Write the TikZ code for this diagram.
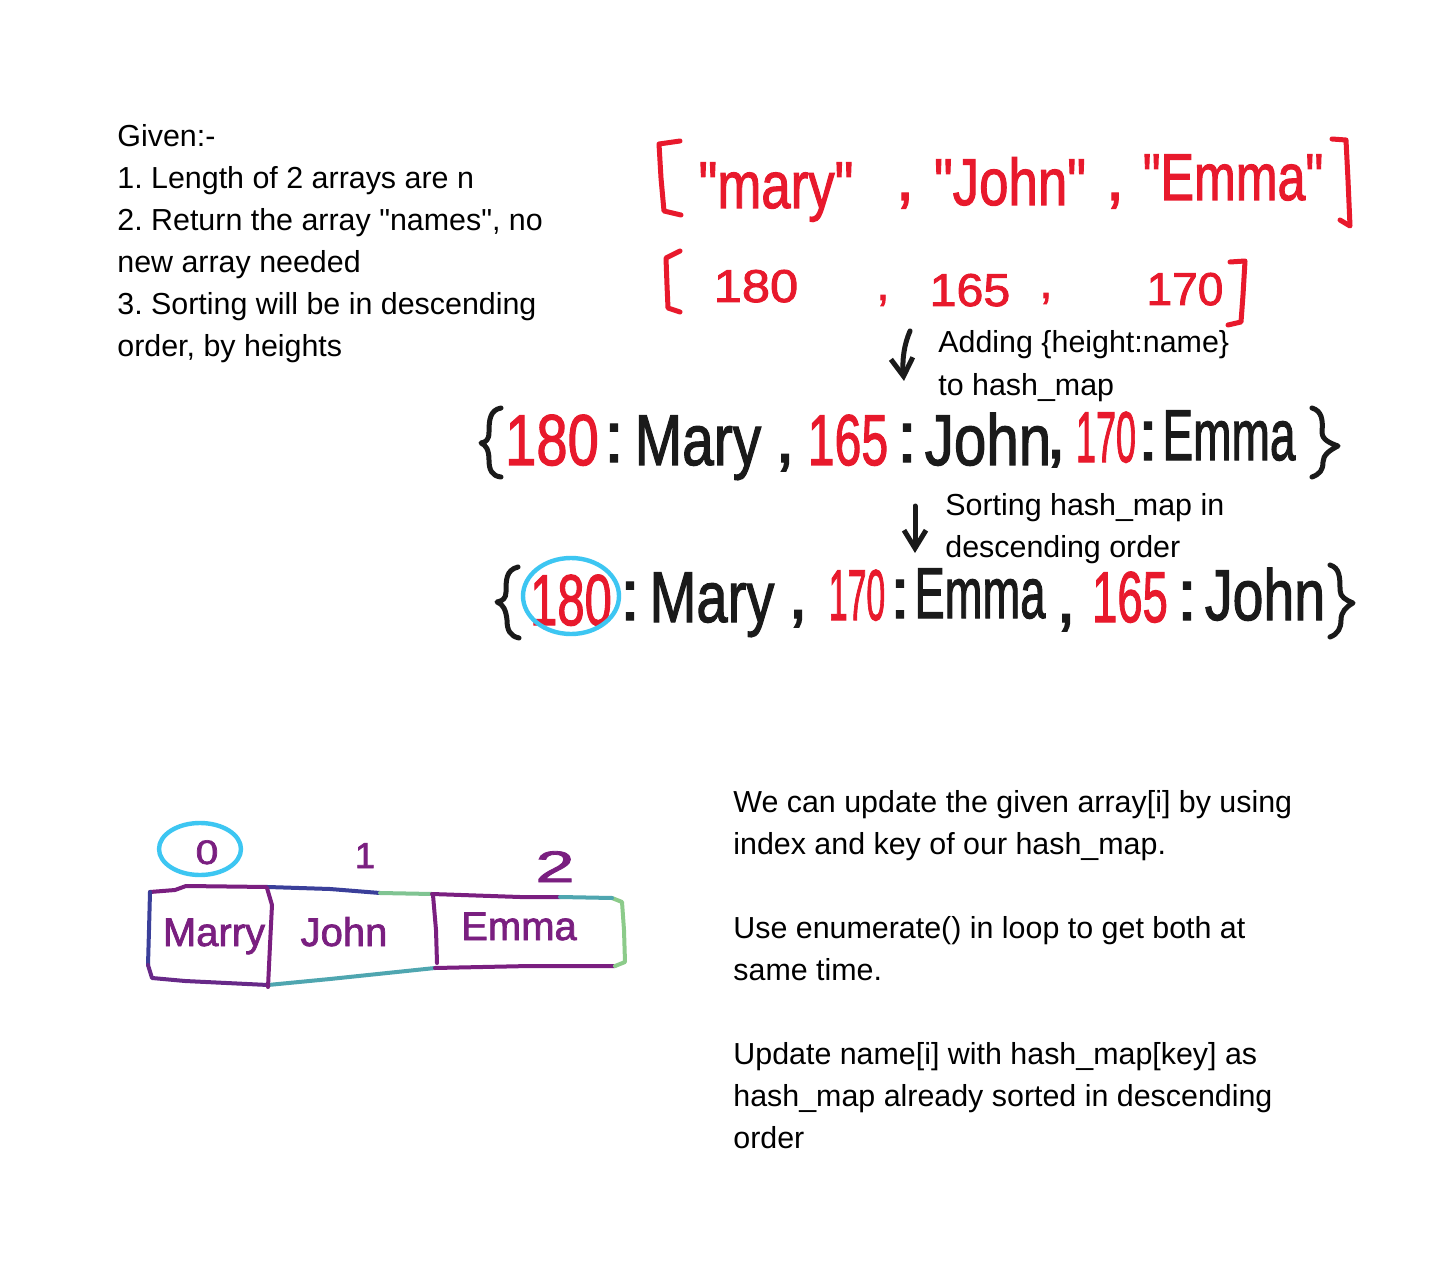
\documentclass[tikz,border=0pt]{standalone}
\usepackage{fontspec}
\usepackage{graphicx}
\setmainfont{Liberation Sans}
\newfontfamily\handwide{Liberation Sans}
\newfontfamily\handbold[FakeBold=1.8]{Liberation Sans}
\usetikzlibrary{arrows.meta}
\definecolor{inkred}{HTML}{E8192C}
\definecolor{inkblack}{HTML}{1A1A1A}
\definecolor{inkblue}{HTML}{3DC6F2}
\definecolor{inkpurple}{HTML}{7A1F80}
\definecolor{inkteal}{HTML}{4FA6B0}
\definecolor{inkgreen}{HTML}{8CCB8A}
\definecolor{inknavy}{HTML}{3A3F9A}
\newcommand{\sq}[2]{\scalebox{#1}[1]{#2}}
\newcommand{\sdq}{{\handwide"}}
\frenchspacing
\begin{document}
\begin{tikzpicture}[x=0.5pt,y=-0.5pt,
  typed/.style={anchor=base west, inner sep=0, font=\fontsize{15.2}{21}\selectfont, text=black},
  hw/.style={anchor=base, inner sep=0, font=\handwide\fontsize{#1}{#1}\selectfont},
  hb/.style={anchor=base, inner sep=0, font=\handbold\fontsize{#1}{#1}\selectfont},
  red/.style={text=inkred},
  blk/.style={text=inkblack},
  pur/.style={text=inkpurple},
  redstroke/.style={draw=inkred, line width=2.5pt, line cap=round, line join=round},
  blkstroke/.style={draw=inkblack, line width=2.5pt, line cap=round, line join=round},
  bluestroke/.style={draw=inkblue, line width=2.2pt, line cap=round, line join=round},
  purstroke/.style={line width=2pt, line cap=round, line join=round},
  downarrow/.style={blkstroke, -{Straight Barb[length=9pt, width=11pt, line width=2.5pt]}}
]
\useasboundingbox[fill=white] (0,0) rectangle (1452,1273);

% ---------- typed text, top left ----------
\node[typed] (g1) at (117,147) {Given:-};
\node[typed] (g2) at (117,189) {1. Length of 2 arrays are n};
\node[typed] (g3) at (117,231) {2. Return the array \sdq names\sdq, no};
\node[typed] (g4) at (117,273) {new array needed};
\node[typed] (g5) at (117,315) {3. Sorting will be in descending};
\node[typed] (g6) at (117,357) {order, by heights};

% ---------- row 1 : names array ----------
\draw[redstroke] (680,141) -- (659,144) -- (661,178) -- (664,211) -- (681,215);
\draw[redstroke] (1332,139) -- (1346,140) -- (1348,180) -- (1350,226) -- (1340,220);
\node[hb=33, red] (n1) at (776,208) {\sq{0.8}{"mary"}};
\node[hb=33, red] (c1) at (905,200) {,};
\node[hb=33, red] (n2) at (1010,205) {\sq{0.8}{"John"}};
\node[hb=33, red] (c2) at (1115,200) {,};
\node[hb=33, red] (n3) at (1233,200) {\sq{0.76}{"Emma"}};

% ---------- row 2 : heights array ----------
\draw[redstroke] (680,251) -- (666,258) -- (667,285) -- (668,308) -- (680,312);
\draw[redstroke] (1230,262) -- (1245,261) -- (1243,295) -- (1241,322) -- (1228,325);
\node[hb=23, red] (h1) at (756,302) {\sq{1.1}{180}};
\node[hb=23, red] (hc1) at (883,300) {,};
\node[hb=23, red] (h2) at (970,306) {\sq{1.05}{165}};
\node[hb=23, red] (hc2) at (1046,298) {,};
\node[hb=23, red] (h3) at (1185,305) {\sq{1.0}{170}};

% ---------- arrow 1 ----------
\coordinate (a1s) at (910,331);
\coordinate (a1e) at (904,381);
\draw[downarrow] (a1s) .. controls (904,345) and (902,360) .. (a1e);
\node[typed] (t1) at (938,353) {Adding \{height:name\}};
\node[typed] (t2) at (938,395) {to hash\_map};

% ---------- row 3 : hash map ----------
\draw[blkstroke] (501,408) .. controls (490,410) and (489,420) .. (489,432)
  .. controls (489,440) and (486,442) .. (481,443)
  .. controls (486,445) and (489,450) .. (489,460)
  .. controls (489,470) and (492,476) .. (501,477);
\draw[blkstroke] (1312,408) .. controls (1322,411) and (1323,420) .. (1322,432)
  .. controls (1322,440) and (1330,443) .. (1338,446)
  .. controls (1330,450) and (1323,455) .. (1323,462)
  .. controls (1323,470) and (1320,474) .. (1312,477);
\node[hb=36, red] (r1a) at (552,465) {\sq{0.78}{180}};
\node[hb=36, blk] (r1b) at (614,462) {:};
\node[hb=36, blk] (r1c) at (698,465) {\sq{0.79}{Mary}};
\node[hb=36, blk] (r1d) at (785,462) {,};
\node[hb=36, red] (r1e) at (848,465) {\sq{0.67}{165}};
\node[hb=36, blk] (r1f) at (907,462) {:};
\node[hb=36, blk] (r1g) at (988,465) {\sq{0.81}{John}};
\node[hb=36, blk] (r1h) at (1056,458) {,};
\node[hb=36, red] (r1i) at (1106,462) {\sq{0.5}{170}};
\node[hb=36, blk] (r1j) at (1148,460) {:};
\node[hb=36, blk] (r1k) at (1229,460) {\sq{0.64}{Emma}};

% ---------- arrow 2 ----------
\coordinate (a2s) at (915,506);
\coordinate (a2e) at (915,553);
\draw[downarrow] (a2s) -- (a2e);
\node[typed] (t3) at (945,515) {Sorting hash\_map in};
\node[typed] (t4) at (945,557) {descending order};

% ---------- row 4 : sorted hash map ----------
\draw[blkstroke] (518,567) .. controls (506,570) and (506,580) .. (506,592)
  .. controls (506,598) and (503,601) .. (497,602)
  .. controls (503,604) and (506,610) .. (507,620)
  .. controls (507,630) and (510,636) .. (519,638);
\draw[blkstroke] (1330,565) .. controls (1340,568) and (1340,578) .. (1340,590)
  .. controls (1340,597) and (1346,600) .. (1353,603)
  .. controls (1346,607) and (1341,612) .. (1341,620)
  .. controls (1341,628) and (1338,634) .. (1330,637);
\node[hb=36, red] (s1a) at (571,625) {\sq{0.68}{180}};
\draw[bluestroke] (571,596) ellipse [x radius=48, y radius=38];
\node[hb=36, blk] (s1b) at (630,620) {:};
\node[hb=36, blk] (s1c) at (712,622) {\sq{0.78}{Mary}};
\node[hb=36, blk] (s1d) at (798,618) {,};
\node[hb=36, red] (s1e) at (857,620) {\sq{0.47}{170}};
\node[hb=36, blk] (s1f) at (900,618) {:};
\node[hb=36, blk] (s1g) at (980,618) {\sq{0.63}{Emma}};
\node[hb=36, blk] (s1h) at (1066,622) {,};
\node[hb=36, red] (s1i) at (1130,622) {\sq{0.63}{165}};
\node[hb=36, blk] (s1j) at (1187,620) {:};
\node[hb=36, blk] (s1k) at (1265,620) {\sq{0.77}{John}};

% ---------- array drawing ----------
\draw[purstroke, draw=inkpurple] (268,887) -- (186,886) -- (175,890) -- (150,892);
\draw[purstroke, draw=inknavy] (150,892) -- (149,930) -- (148,965);
\draw[purstroke, draw=inkpurple!70!inknavy] (148,965) -- (152,978) -- (185,981) -- (268,985);
\draw[purstroke, draw=inkteal] (268,985) -- (330,979) -- (435,968);
\draw[purstroke, draw=inkpurple] (435,968) -- (530,966) -- (615,966);
\draw[purstroke, draw=inkgreen] (615,966) -- (625,962) -- (624,930) -- (622,902) -- (612,898);
\draw[purstroke, draw=inknavy] (268,887) -- (330,889) -- (380,893);
\draw[purstroke, draw=inkgreen!80!inkteal] (380,893) -- (432,894);
\draw[purstroke, draw=inkpurple] (432,894) -- (520,897) -- (560,897);
\draw[purstroke, draw=inkteal] (560,897) -- (612,898);
\draw[purstroke, draw=inkpurple] (267,888) -- (272,905) -- (270,945) -- (268,987);
\draw[purstroke, draw=inkpurple] (433,895) -- (436,930) -- (437,963);
\node[hb=20, pur] (m1) at (214,946) {Marry};
\node[hb=20, pur] (m2) at (344,946) {John};
\node[hb=20, pur] (m3) at (519,940) {Emma};
\node[hb=17, pur] (i0) at (207,864) {\sq{1.2}{0}};
\draw[bluestroke] (200,849) ellipse [x radius=41, y radius=26];
\node[hb=18, pur] (i1) at (365,868) {1};
\node[hb=22, pur] (i2) at (555,882) {\sq{1.6}{2}};

% ---------- typed text, bottom right ----------
\node[typed] (b1) at (733,812) {We can update the given array[i] by using};
\node[typed] (b2) at (733,854) {index and key of our hash\_map.};
\node[typed] (b3) at (733,938) {Use enumerate() in loop to get both at};
\node[typed] (b4) at (733,980) {same time.};
\node[typed] (b5) at (733,1064) {Update name[i] with hash\_map[key] as};
\node[typed] (b6) at (733,1106) {hash\_map already sorted in descending};
\node[typed] (b7) at (733,1148) {order};
\end{tikzpicture}
\end{document}
